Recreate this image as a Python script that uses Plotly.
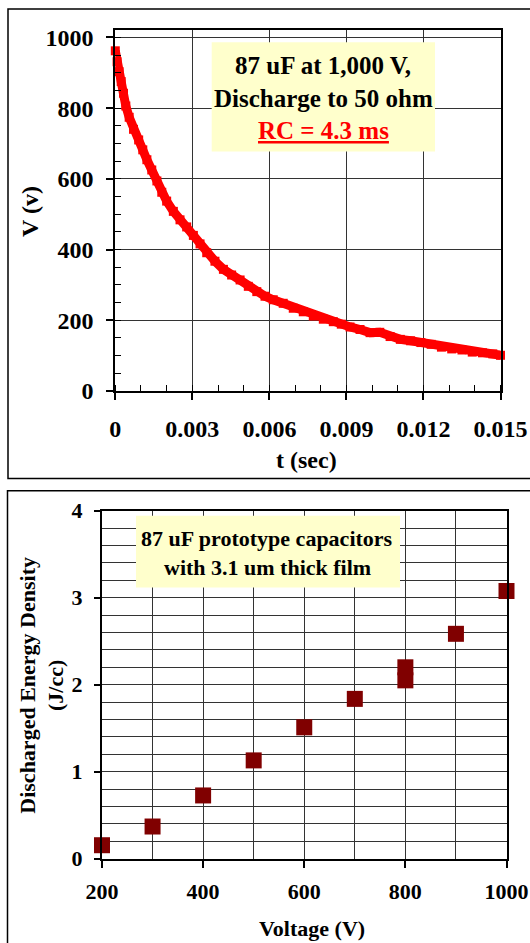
import plotly.graph_objects as go

# ---------------- data ----------------
# Top chart: discharge curve
t_sec = [0.0000, 0.00007, 0.00015, 0.00023, 0.00032, 0.00041, 0.00054, 0.00071, 0.00091,
         0.00107, 0.00123, 0.00142, 0.00162, 0.00181, 0.00200, 0.00226, 0.00252, 0.00278,
         0.00304, 0.00330, 0.00356, 0.00388, 0.00421, 0.00453, 0.00486, 0.00518, 0.00551,
         0.00583, 0.00615, 0.00654, 0.00693, 0.00732, 0.00771, 0.00810, 0.00849, 0.00880,
         0.00914, 0.00953, 0.00992, 0.01030, 0.01070, 0.01110, 0.01150, 0.01190, 0.01230,
         0.01270, 0.01310, 0.01350, 0.01390, 0.01430, 0.01470, 0.01500]
volts = [962, 931, 903, 875, 842, 806, 774, 740, 710,
         682, 654, 625, 594, 562, 537, 508, 484, 464,
         440, 416, 391, 367, 344, 328, 314, 296, 281,
         268, 258, 248, 234, 224, 212, 203, 196, 189,
         181, 174, 165, 166, 154, 146, 142, 137, 132,
         124, 119, 116, 110, 108, 105, 101]

top_xticks = [0, 0.003, 0.006, 0.009, 0.012, 0.015]
top_xlabels = ["0", "0.003", "0.006", "0.009", "0.012", "0.015"]

# Bottom chart: energy density vs voltage
voltage = [200, 300, 400, 500, 600, 700, 800, 800, 900, 1000]
energy = [0.155, 0.37, 0.727, 1.13, 1.51, 1.837, 2.05, 2.20, 2.585, 3.077]

W, H = 530, 943
def px(x):
    return x / W
def py(y):
    return 1 - y / H

FONT = "Liberation Serif, Times New Roman, serif"
def f(size, color="black"):
    return dict(family=FONT, size=size, color=color, weight="bold")

GRID = "#333333"

fig = go.Figure()
fig.add_trace(go.Scatter(
    x=t_sec, y=volts, xaxis="x", yaxis="y", mode="lines+markers",
    line=dict(color="#FF0000", width=9),
    marker=dict(symbol="square", size=9, color="#FF0000"),
    cliponaxis=False, showlegend=False, hoverinfo="skip"))
fig.add_trace(go.Scatter(
    x=voltage, y=energy, xaxis="x2", yaxis="y2", mode="markers",
    marker=dict(symbol="square", size=16, color="#800000"),
    cliponaxis=False, showlegend=False, hoverinfo="skip"))

common = dict(automargin=False, showgrid=True, gridcolor=GRID, gridwidth=1, zeroline=False,
              showline=True, linecolor="black", linewidth=2, mirror=True,
              ticks="outside", tickwidth=1.5, tickcolor="black")

fig.update_layout(
    width=W, height=H, margin=dict(l=0, r=0, t=0, b=0, autoexpand=False),
    paper_bgcolor="white", plot_bgcolor="white", showlegend=False,
    xaxis=dict(domain=[px(115.3), px(500.5)], range=[0, 0.015], anchor="y",
               tickmode="array", tickvals=top_xticks, ticktext=top_xlabels, ticklen=7,
               minor=dict(tickmode="linear", tick0=0, dtick=0.001, ticks="inside",
                          ticklen=6, tickwidth=1.2, tickcolor="black", showgrid=False),
               tickfont=f(24), ticklabelstandoff=8, **common),
    yaxis=dict(domain=[py(391), py(30.3)], range=[0, 1020], anchor="x",
               tickmode="linear", tick0=0, dtick=200, ticklen=7,
               minor=dict(tickmode="linear", tick0=0, dtick=50, ticks="inside",
                          ticklen=6, tickwidth=1.2, tickcolor="black", showgrid=False),
               tickfont=f(24), ticklabelstandoff=8, **common),
    xaxis2=dict(domain=[px(102), px(506.5)], range=[200, 1000], anchor="y2",
                tickmode="linear", tick0=200, dtick=200, ticklen=7,
                minor=dict(tickmode="linear", tick0=200, dtick=100, ticks="",
                           showgrid=True, gridcolor=GRID, gridwidth=1),
                tickfont=f(22), ticklabelstandoff=5, **common),
    yaxis2=dict(domain=[py(858.7), py(510.7)], range=[0, 4], anchor="x2",
                tickmode="linear", tick0=0, dtick=1, ticklen=6,
                minor=dict(tickmode="linear", tick0=0, dtick=0.2, ticks="",
                           showgrid=True, gridcolor=GRID, gridwidth=1),
                tickfont=f(22), ticklabelstandoff=7, **common),
)

shapes = [
    # outer frames
    dict(type="rect", xref="paper", yref="paper", x0=px(8), x1=1.05, y0=py(478.5), y1=py(9),
         line=dict(color="black", width=1.5), fillcolor="rgba(0,0,0,0)", layer="above"),
    dict(type="rect", xref="paper", yref="paper", x0=px(7.5), x1=1.05, y0=-0.05, y1=py(490.7),
         line=dict(color="black", width=1.5), fillcolor="rgba(0,0,0,0)", layer="above"),
    # text boxes
    dict(type="rect", xref="paper", yref="paper", x0=px(211.7), x1=px(435), y0=py(151.5), y1=py(42.3),
         line=dict(width=0), fillcolor="#FFFFCC", layer="above"),
    dict(type="rect", xref="paper", yref="paper", x0=px(136), x1=px(400), y0=py(587.5), y1=py(515.7),
         line=dict(width=0), fillcolor="#FFFFCC", layer="above"),
]

ann = []
def add(text, x, y, size, color="black", angle=0):
    ann.append(dict(text=text, x=px(x), y=py(y), xref="paper", yref="paper",
                    xanchor="center", yanchor="middle", showarrow=False,
                    font=f(size, color), textangle=angle))

add("87 uF at 1,000 V,", 323.3, 65, 25)
add("Discharge to 50 ohm", 323.3, 98.3, 25)
add("<u>RC = 4.3 ms</u>", 323.3, 130, 25, color="#FF0000")
add("V (v)", 30, 212, 24, angle=-90)
add("t (sec)", 306.7, 460, 24)

add("87 uF prototype capacitors", 267, 538.5, 22)
add("with 3.1 um thick film", 267, 567.5, 22)
add("Discharged Energy Density", 26.7, 685, 22, angle=-90)
add("(J/cc)", 55, 686, 22, angle=-90)
add("Voltage (V)", 312, 928, 22)

fig.update_layout(shapes=shapes, annotations=ann)
fig.write_html("out.html", config={"displayModeBar": False},
               post_script="document.body.style.margin='0';")
